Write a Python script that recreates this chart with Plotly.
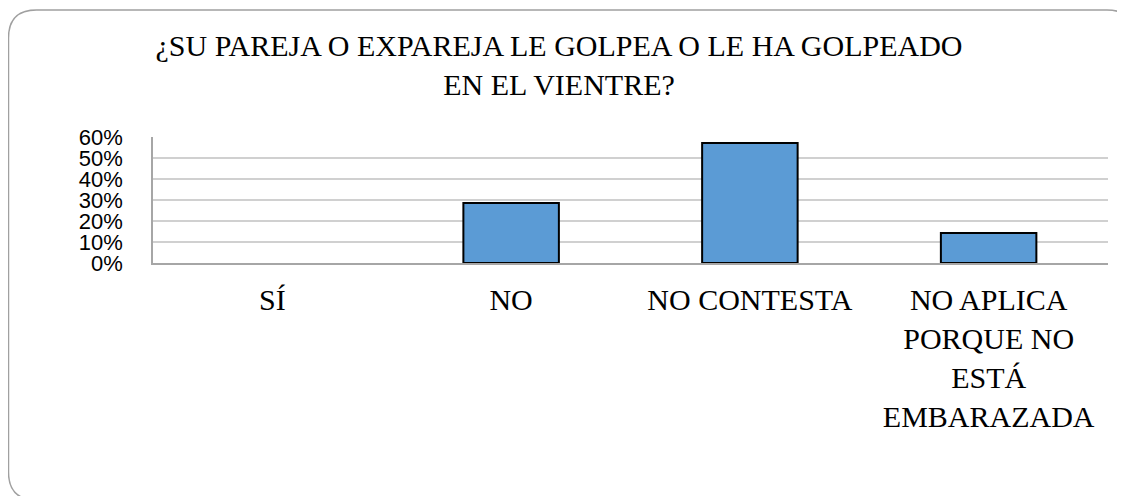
import plotly.graph_objects as go

# datos
categorias = ["SÍ", "NO", "NO CONTESTA", "NO APLICA<br>PORQUE NO<br>ESTÁ<br>EMBARAZADA"]
porcentajes = [0.0, 0.2857, 0.5714, 0.1429]
ticks_y = [0, 0.1, 0.2, 0.3, 0.4, 0.5, 0.6]
titulo = "¿SU PAREJA O EXPAREJA LE GOLPEA O LE HA GOLPEADO<br>EN EL VIENTRE?"

# la pagina tiene 8px de margen en el body
W, H = 1117, 488
L, R, T, B = 145, 17, 129, 233
pw, ph = W - L - R, H - T - B


def px(x, y):
    # pixel -> paper
    return (x - L) / pw, (H - B - y) / ph


def marco(x0, y0, x1, y1, r):
    pts = [
        ("M", [(x0 + r, y0)]),
        ("L", [(x1 - r, y0)]),
        ("Q", [(x1, y0), (x1, y0 + r)]),
        ("L", [(x1, y1 - r)]),
        ("Q", [(x1, y1), (x1 - r, y1)]),
        ("L", [(x0 + r, y1)]),
        ("Q", [(x0, y1), (x0, y1 - r)]),
        ("L", [(x0, y0 + r)]),
        ("Q", [(x0, y0), (x0 + r, y0)]),
    ]
    out = []
    for cmd, ps in pts:
        out.append(cmd + " ".join("%.5f,%.5f" % px(a, b) for a, b in ps))
    return " ".join(out) + " Z"


fig = go.Figure(go.Bar(
    x=categorias, y=porcentajes,
    marker=dict(color="#5B9BD5",
                line=dict(color="black", width=[0 if v == 0 else 2 for v in porcentajes])),
))

fig.update_layout(
    width=W, height=H,
    margin=dict(l=L, r=R, t=T, b=B),
    plot_bgcolor="white", paper_bgcolor="white",
    bargap=0.6, showlegend=False,
    title=dict(text=titulo, x=551 / W, xref="container", xanchor="center",
               y=1 - 48 / H, yanchor="top",
               font=dict(family="Liberation Serif", size=30, color="black")),
    shapes=[dict(type="path", xref="paper", yref="paper",
                 path=marco(0.5, 2, 1127, 492, 28),
                 line=dict(color="#A0A0A0", width=1.5), layer="below")],
)

fig.update_xaxes(
    showline=True, linecolor="#A6A6A6", linewidth=1.5,
    tickfont=dict(family="Liberation Serif", size=30, color="black"),
    ticks="", ticklabelstandoff=9,
)
fig.update_yaxes(
    range=[0, 0.6], tickvals=ticks_y, tickformat=".0%",
    showgrid=True, gridcolor="#D0D0D0", gridwidth=1.5,
    showline=True, linecolor="#A6A6A6", linewidth=1.5,
    zeroline=False,
    tickfont=dict(family="Liberation Sans", size=22, color="black"),
    ticks="", ticklabelstandoff=24,
)

fig.write_html("out.html")
